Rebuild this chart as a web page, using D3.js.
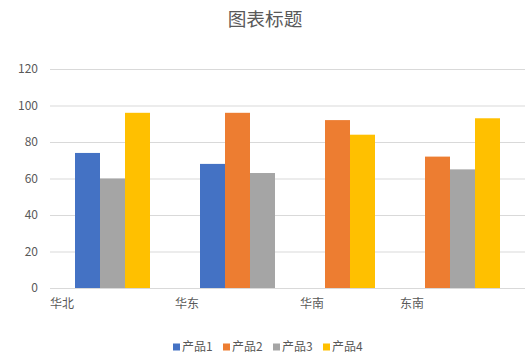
<!DOCTYPE html>
<html>
<head>
<meta charset="utf-8">
<script src="https://cdn.jsdelivr.net/npm/d3@7"></script>
<style>
  body { margin: 0; background: #fff; }
  text { font-family: "Noto Sans CJK SC", "DejaVu Sans", sans-serif; fill: #595959; }
</style>
</head>
<body>
<svg id="chart" width="530" height="360"></svg>
<script>
var categories = ["华北", "华东", "华南", "东南"];
var seriesNames = ["产品1", "产品2", "产品3", "产品4"];
var colors = ["#4472C4", "#ED7D31", "#A5A5A5", "#FFC000"];
// null = no value for that region
var values = [
  [74, null, 60, 96],
  [68, 96, 63, null],
  [null, 92, null, 84],
  [null, 72, 65, 93]
];
var yTicks = [0, 20, 40, 60, 80, 100, 120];

var svg = d3.select("#chart"),
  margin = { top: 69, right: 5, bottom: 72, left: 50 },
  width = +svg.attr("width") - margin.left - margin.right,
  height = +svg.attr("height") - margin.top - margin.bottom,
  g = svg.append("g").attr("transform", "translate(" + margin.left + "," + margin.top + ")");

// each region gets a leading empty slot, one slot per present bar, and a trailing empty slot
var slots = [], bars = [], groupStart = [];
categories.forEach(function(c, ci) {
  groupStart.push(c + "-lead");
  slots.push(c + "-lead");
  values[ci].forEach(function(v, si) {
    if (v === null) return;
    var key = c + "-" + si;
    slots.push(key);
    bars.push({ key: key, value: v, series: si });
  });
  slots.push(c + "-tail");
});

var x = d3.scaleBand().domain(slots).range([0, width]);
var y = d3.scaleLinear().domain([0, 120]).range([height, 0]);

g.append("g")
  .selectAll("line")
  .data(yTicks)
  .enter().append("line")
    .attr("x1", 0)
    .attr("x2", width)
    .attr("y1", d => y(d) + 0.5)
    .attr("y2", d => y(d) + 0.5)
    .attr("stroke", "#d9d9d9")
    .attr("stroke-width", 1);

var yAxis = g.append("g")
  .call(d3.axisLeft(y).tickValues(yTicks).tickSize(0).tickPadding(12));
yAxis.select(".domain").remove();
yAxis.selectAll("text").attr("font-size", 12).style("fill", "#595959");

g.selectAll("rect.bar")
  .data(bars)
  .enter().append("rect")
    .attr("class", "bar")
    .attr("x", d => x(d.key))
    .attr("width", x.bandwidth())
    .attr("y", d => y(d.value))
    .attr("height", d => y(0) - y(d.value))
    .attr("fill", d => colors[d.series]);

g.selectAll("text.cat")
  .data(categories)
  .enter().append("text")
    .attr("class", "cat")
    .attr("x", (d, i) => x(groupStart[i]))
    .attr("y", height + 16)
    .attr("dy", "0.35em")
    .attr("font-size", 12)
    .text(d => d);

svg.append("text")
  .attr("x", 265)
  .attr("y", 19)
  .attr("dy", "0.35em")
  .attr("text-anchor", "middle")
  .attr("font-size", 18.7)
  .text("图表标题");

var legend = svg.append("g").attr("transform", "translate(173,347)");
var item = legend.selectAll("g")
  .data(seriesNames)
  .enter().append("g")
    .attr("transform", (d, i) => "translate(" + (i * 50) + ",0)");
item.append("rect")
  .attr("x", 0).attr("y", -3.5)
  .attr("width", 7).attr("height", 7)
  .attr("fill", (d, i) => colors[i]);
item.append("text")
  .attr("x", 9)
  .attr("dy", "0.35em")
  .attr("font-size", 12)
  .text(d => d);
</script>
</body>
</html>
